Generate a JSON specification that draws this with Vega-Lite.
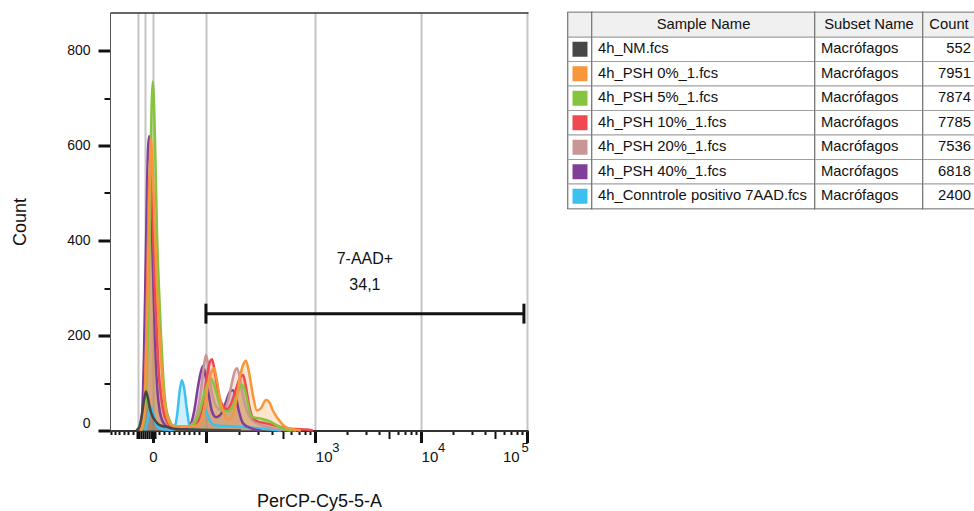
{
  "$schema": "https://vega.github.io/schema/vega-lite/v6.json",
  "padding": {"left": 11, "top": 10.5, "right": 0, "bottom": 0},
  "background": "white",
  "config": {"view": {"stroke": null}, "font": "Liberation Sans"},
  "datasets": {
    "hist": [
      {"sample": "4h_Conntrole positivo 7AAD.fcs", "channel": 86, "count": 0},
      {"sample": "4h_Conntrole positivo 7AAD.fcs", "channel": 93, "count": 25},
      {"sample": "4h_Conntrole positivo 7AAD.fcs", "channel": 100, "count": 50},
      {"sample": "4h_Conntrole positivo 7AAD.fcs", "channel": 106, "count": 35},
      {"sample": "4h_Conntrole positivo 7AAD.fcs", "channel": 113, "count": 12},
      {"sample": "4h_Conntrole positivo 7AAD.fcs", "channel": 122, "count": 4},
      {"sample": "4h_Conntrole positivo 7AAD.fcs", "channel": 135, "count": 2},
      {"sample": "4h_Conntrole positivo 7AAD.fcs", "channel": 149, "count": 1},
      {"sample": "4h_Conntrole positivo 7AAD.fcs", "channel": 157, "count": 3},
      {"sample": "4h_Conntrole positivo 7AAD.fcs", "channel": 164, "count": 30},
      {"sample": "4h_Conntrole positivo 7AAD.fcs", "channel": 171, "count": 85},
      {"sample": "4h_Conntrole positivo 7AAD.fcs", "channel": 176, "count": 106},
      {"sample": "4h_Conntrole positivo 7AAD.fcs", "channel": 181, "count": 92},
      {"sample": "4h_Conntrole positivo 7AAD.fcs", "channel": 189, "count": 40},
      {"sample": "4h_Conntrole positivo 7AAD.fcs", "channel": 196, "count": 8},
      {"sample": "4h_Conntrole positivo 7AAD.fcs", "channel": 206, "count": 6},
      {"sample": "4h_Conntrole positivo 7AAD.fcs", "channel": 216, "count": 15},
      {"sample": "4h_Conntrole positivo 7AAD.fcs", "channel": 225, "count": 35},
      {"sample": "4h_Conntrole positivo 7AAD.fcs", "channel": 233, "count": 43},
      {"sample": "4h_Conntrole positivo 7AAD.fcs", "channel": 240, "count": 30},
      {"sample": "4h_Conntrole positivo 7AAD.fcs", "channel": 250, "count": 14},
      {"sample": "4h_Conntrole positivo 7AAD.fcs", "channel": 267, "count": 10},
      {"sample": "4h_Conntrole positivo 7AAD.fcs", "channel": 296, "count": 9},
      {"sample": "4h_Conntrole positivo 7AAD.fcs", "channel": 333, "count": 7},
      {"sample": "4h_Conntrole positivo 7AAD.fcs", "channel": 370, "count": 4},
      {"sample": "4h_Conntrole positivo 7AAD.fcs", "channel": 419, "count": 0},

      {"sample": "4h_PSH 40%_1.fcs", "channel": 71, "count": 0},
      {"sample": "4h_PSH 40%_1.fcs", "channel": 78, "count": 30},
      {"sample": "4h_PSH 40%_1.fcs", "channel": 83, "count": 150},
      {"sample": "4h_PSH 40%_1.fcs", "channel": 88, "count": 380},
      {"sample": "4h_PSH 40%_1.fcs", "channel": 93, "count": 590},
      {"sample": "4h_PSH 40%_1.fcs", "channel": 96, "count": 620},
      {"sample": "4h_PSH 40%_1.fcs", "channel": 100, "count": 500},
      {"sample": "4h_PSH 40%_1.fcs", "channel": 105, "count": 350},
      {"sample": "4h_PSH 40%_1.fcs", "channel": 110, "count": 200},
      {"sample": "4h_PSH 40%_1.fcs", "channel": 115, "count": 100},
      {"sample": "4h_PSH 40%_1.fcs", "channel": 122, "count": 40},
      {"sample": "4h_PSH 40%_1.fcs", "channel": 132, "count": 15},
      {"sample": "4h_PSH 40%_1.fcs", "channel": 149, "count": 5},
      {"sample": "4h_PSH 40%_1.fcs", "channel": 186, "count": 5},
      {"sample": "4h_PSH 40%_1.fcs", "channel": 196, "count": 10},
      {"sample": "4h_PSH 40%_1.fcs", "channel": 206, "count": 40},
      {"sample": "4h_PSH 40%_1.fcs", "channel": 216, "count": 95},
      {"sample": "4h_PSH 40%_1.fcs", "channel": 223, "count": 125},
      {"sample": "4h_PSH 40%_1.fcs", "channel": 228, "count": 136},
      {"sample": "4h_PSH 40%_1.fcs", "channel": 235, "count": 110},
      {"sample": "4h_PSH 40%_1.fcs", "channel": 243, "count": 70},
      {"sample": "4h_PSH 40%_1.fcs", "channel": 250, "count": 40},
      {"sample": "4h_PSH 40%_1.fcs", "channel": 260, "count": 28},
      {"sample": "4h_PSH 40%_1.fcs", "channel": 272, "count": 35},
      {"sample": "4h_PSH 40%_1.fcs", "channel": 284, "count": 60},
      {"sample": "4h_PSH 40%_1.fcs", "channel": 294, "count": 82},
      {"sample": "4h_PSH 40%_1.fcs", "channel": 301, "count": 85},
      {"sample": "4h_PSH 40%_1.fcs", "channel": 309, "count": 68},
      {"sample": "4h_PSH 40%_1.fcs", "channel": 316, "count": 40},
      {"sample": "4h_PSH 40%_1.fcs", "channel": 326, "count": 15},
      {"sample": "4h_PSH 40%_1.fcs", "channel": 345, "count": 5},
      {"sample": "4h_PSH 40%_1.fcs", "channel": 370, "count": 0},

      {"sample": "4h_PSH 20%_1.fcs", "channel": 76, "count": 0},
      {"sample": "4h_PSH 20%_1.fcs", "channel": 83, "count": 40},
      {"sample": "4h_PSH 20%_1.fcs", "channel": 88, "count": 160},
      {"sample": "4h_PSH 20%_1.fcs", "channel": 93, "count": 400},
      {"sample": "4h_PSH 20%_1.fcs", "channel": 98, "count": 570},
      {"sample": "4h_PSH 20%_1.fcs", "channel": 103, "count": 510},
      {"sample": "4h_PSH 20%_1.fcs", "channel": 108, "count": 380},
      {"sample": "4h_PSH 20%_1.fcs", "channel": 113, "count": 240},
      {"sample": "4h_PSH 20%_1.fcs", "channel": 118, "count": 140},
      {"sample": "4h_PSH 20%_1.fcs", "channel": 125, "count": 70},
      {"sample": "4h_PSH 20%_1.fcs", "channel": 135, "count": 25},
      {"sample": "4h_PSH 20%_1.fcs", "channel": 149, "count": 8},
      {"sample": "4h_PSH 20%_1.fcs", "channel": 186, "count": 8},
      {"sample": "4h_PSH 20%_1.fcs", "channel": 203, "count": 15},
      {"sample": "4h_PSH 20%_1.fcs", "channel": 213, "count": 35},
      {"sample": "4h_PSH 20%_1.fcs", "channel": 223, "count": 85},
      {"sample": "4h_PSH 20%_1.fcs", "channel": 230, "count": 135},
      {"sample": "4h_PSH 20%_1.fcs", "channel": 235, "count": 159},
      {"sample": "4h_PSH 20%_1.fcs", "channel": 240, "count": 142},
      {"sample": "4h_PSH 20%_1.fcs", "channel": 247, "count": 92},
      {"sample": "4h_PSH 20%_1.fcs", "channel": 255, "count": 62},
      {"sample": "4h_PSH 20%_1.fcs", "channel": 265, "count": 46},
      {"sample": "4h_PSH 20%_1.fcs", "channel": 277, "count": 42},
      {"sample": "4h_PSH 20%_1.fcs", "channel": 289, "count": 62},
      {"sample": "4h_PSH 20%_1.fcs", "channel": 299, "count": 102},
      {"sample": "4h_PSH 20%_1.fcs", "channel": 306, "count": 126},
      {"sample": "4h_PSH 20%_1.fcs", "channel": 311, "count": 131},
      {"sample": "4h_PSH 20%_1.fcs", "channel": 318, "count": 112},
      {"sample": "4h_PSH 20%_1.fcs", "channel": 326, "count": 72},
      {"sample": "4h_PSH 20%_1.fcs", "channel": 336, "count": 40},
      {"sample": "4h_PSH 20%_1.fcs", "channel": 345, "count": 25},
      {"sample": "4h_PSH 20%_1.fcs", "channel": 370, "count": 12},
      {"sample": "4h_PSH 20%_1.fcs", "channel": 394, "count": 6},
      {"sample": "4h_PSH 20%_1.fcs", "channel": 419, "count": 2},
      {"sample": "4h_PSH 20%_1.fcs", "channel": 443, "count": 0},

      {"sample": "4h_PSH 10%_1.fcs", "channel": 76, "count": 0},
      {"sample": "4h_PSH 10%_1.fcs", "channel": 83, "count": 40},
      {"sample": "4h_PSH 10%_1.fcs", "channel": 88, "count": 150},
      {"sample": "4h_PSH 10%_1.fcs", "channel": 93, "count": 380},
      {"sample": "4h_PSH 10%_1.fcs", "channel": 98, "count": 540},
      {"sample": "4h_PSH 10%_1.fcs", "channel": 103, "count": 480},
      {"sample": "4h_PSH 10%_1.fcs", "channel": 108, "count": 360},
      {"sample": "4h_PSH 10%_1.fcs", "channel": 113, "count": 240},
      {"sample": "4h_PSH 10%_1.fcs", "channel": 118, "count": 140},
      {"sample": "4h_PSH 10%_1.fcs", "channel": 125, "count": 75},
      {"sample": "4h_PSH 10%_1.fcs", "channel": 135, "count": 28},
      {"sample": "4h_PSH 10%_1.fcs", "channel": 149, "count": 10},
      {"sample": "4h_PSH 10%_1.fcs", "channel": 174, "count": 8},
      {"sample": "4h_PSH 10%_1.fcs", "channel": 198, "count": 8},
      {"sample": "4h_PSH 10%_1.fcs", "channel": 216, "count": 20},
      {"sample": "4h_PSH 10%_1.fcs", "channel": 228, "count": 60},
      {"sample": "4h_PSH 10%_1.fcs", "channel": 238, "count": 118},
      {"sample": "4h_PSH 10%_1.fcs", "channel": 245, "count": 145},
      {"sample": "4h_PSH 10%_1.fcs", "channel": 250, "count": 150},
      {"sample": "4h_PSH 10%_1.fcs", "channel": 257, "count": 122},
      {"sample": "4h_PSH 10%_1.fcs", "channel": 267, "count": 72},
      {"sample": "4h_PSH 10%_1.fcs", "channel": 277, "count": 52},
      {"sample": "4h_PSH 10%_1.fcs", "channel": 287, "count": 45},
      {"sample": "4h_PSH 10%_1.fcs", "channel": 296, "count": 55},
      {"sample": "4h_PSH 10%_1.fcs", "channel": 309, "count": 88},
      {"sample": "4h_PSH 10%_1.fcs", "channel": 318, "count": 110},
      {"sample": "4h_PSH 10%_1.fcs", "channel": 326, "count": 117},
      {"sample": "4h_PSH 10%_1.fcs", "channel": 333, "count": 92},
      {"sample": "4h_PSH 10%_1.fcs", "channel": 341, "count": 52},
      {"sample": "4h_PSH 10%_1.fcs", "channel": 348, "count": 30},
      {"sample": "4h_PSH 10%_1.fcs", "channel": 360, "count": 20},
      {"sample": "4h_PSH 10%_1.fcs", "channel": 382, "count": 15},
      {"sample": "4h_PSH 10%_1.fcs", "channel": 407, "count": 10},
      {"sample": "4h_PSH 10%_1.fcs", "channel": 431, "count": 5},
      {"sample": "4h_PSH 10%_1.fcs", "channel": 456, "count": 3},
      {"sample": "4h_PSH 10%_1.fcs", "channel": 480, "count": 2},
      {"sample": "4h_PSH 10%_1.fcs", "channel": 497, "count": 0},

      {"sample": "4h_PSH 5%_1.fcs", "channel": 76, "count": 0},
      {"sample": "4h_PSH 5%_1.fcs", "channel": 83, "count": 20},
      {"sample": "4h_PSH 5%_1.fcs", "channel": 91, "count": 150},
      {"sample": "4h_PSH 5%_1.fcs", "channel": 96, "count": 350},
      {"sample": "4h_PSH 5%_1.fcs", "channel": 100, "count": 600},
      {"sample": "4h_PSH 5%_1.fcs", "channel": 105, "count": 735},
      {"sample": "4h_PSH 5%_1.fcs", "channel": 110, "count": 620},
      {"sample": "4h_PSH 5%_1.fcs", "channel": 115, "count": 420},
      {"sample": "4h_PSH 5%_1.fcs", "channel": 120, "count": 300},
      {"sample": "4h_PSH 5%_1.fcs", "channel": 125, "count": 200},
      {"sample": "4h_PSH 5%_1.fcs", "channel": 130, "count": 120},
      {"sample": "4h_PSH 5%_1.fcs", "channel": 137, "count": 50},
      {"sample": "4h_PSH 5%_1.fcs", "channel": 145, "count": 24},
      {"sample": "4h_PSH 5%_1.fcs", "channel": 152, "count": 12},
      {"sample": "4h_PSH 5%_1.fcs", "channel": 164, "count": 9},
      {"sample": "4h_PSH 5%_1.fcs", "channel": 189, "count": 9},
      {"sample": "4h_PSH 5%_1.fcs", "channel": 203, "count": 12},
      {"sample": "4h_PSH 5%_1.fcs", "channel": 213, "count": 25},
      {"sample": "4h_PSH 5%_1.fcs", "channel": 223, "count": 50},
      {"sample": "4h_PSH 5%_1.fcs", "channel": 230, "count": 75},
      {"sample": "4h_PSH 5%_1.fcs", "channel": 240, "count": 100},
      {"sample": "4h_PSH 5%_1.fcs", "channel": 247, "count": 110},
      {"sample": "4h_PSH 5%_1.fcs", "channel": 255, "count": 96},
      {"sample": "4h_PSH 5%_1.fcs", "channel": 265, "count": 65},
      {"sample": "4h_PSH 5%_1.fcs", "channel": 274, "count": 43},
      {"sample": "4h_PSH 5%_1.fcs", "channel": 289, "count": 40},
      {"sample": "4h_PSH 5%_1.fcs", "channel": 301, "count": 52},
      {"sample": "4h_PSH 5%_1.fcs", "channel": 314, "count": 82},
      {"sample": "4h_PSH 5%_1.fcs", "channel": 323, "count": 96},
      {"sample": "4h_PSH 5%_1.fcs", "channel": 331, "count": 84},
      {"sample": "4h_PSH 5%_1.fcs", "channel": 338, "count": 55},
      {"sample": "4h_PSH 5%_1.fcs", "channel": 345, "count": 32},
      {"sample": "4h_PSH 5%_1.fcs", "channel": 355, "count": 27},
      {"sample": "4h_PSH 5%_1.fcs", "channel": 365, "count": 26},
      {"sample": "4h_PSH 5%_1.fcs", "channel": 382, "count": 22},
      {"sample": "4h_PSH 5%_1.fcs", "channel": 394, "count": 18},
      {"sample": "4h_PSH 5%_1.fcs", "channel": 414, "count": 8},
      {"sample": "4h_PSH 5%_1.fcs", "channel": 431, "count": 2},
      {"sample": "4h_PSH 5%_1.fcs", "channel": 456, "count": 0},

      {"sample": "4h_PSH 0%_1.fcs", "channel": 73, "count": 0},
      {"sample": "4h_PSH 0%_1.fcs", "channel": 81, "count": 15},
      {"sample": "4h_PSH 0%_1.fcs", "channel": 86, "count": 80},
      {"sample": "4h_PSH 0%_1.fcs", "channel": 91, "count": 250},
      {"sample": "4h_PSH 0%_1.fcs", "channel": 96, "count": 480},
      {"sample": "4h_PSH 0%_1.fcs", "channel": 100, "count": 616},
      {"sample": "4h_PSH 0%_1.fcs", "channel": 105, "count": 540},
      {"sample": "4h_PSH 0%_1.fcs", "channel": 110, "count": 420},
      {"sample": "4h_PSH 0%_1.fcs", "channel": 115, "count": 300},
      {"sample": "4h_PSH 0%_1.fcs", "channel": 120, "count": 220},
      {"sample": "4h_PSH 0%_1.fcs", "channel": 125, "count": 150},
      {"sample": "4h_PSH 0%_1.fcs", "channel": 132, "count": 70},
      {"sample": "4h_PSH 0%_1.fcs", "channel": 140, "count": 30},
      {"sample": "4h_PSH 0%_1.fcs", "channel": 149, "count": 12},
      {"sample": "4h_PSH 0%_1.fcs", "channel": 164, "count": 8},
      {"sample": "4h_PSH 0%_1.fcs", "channel": 189, "count": 8},
      {"sample": "4h_PSH 0%_1.fcs", "channel": 211, "count": 10},
      {"sample": "4h_PSH 0%_1.fcs", "channel": 223, "count": 20},
      {"sample": "4h_PSH 0%_1.fcs", "channel": 233, "count": 55},
      {"sample": "4h_PSH 0%_1.fcs", "channel": 240, "count": 95},
      {"sample": "4h_PSH 0%_1.fcs", "channel": 247, "count": 120},
      {"sample": "4h_PSH 0%_1.fcs", "channel": 255, "count": 131},
      {"sample": "4h_PSH 0%_1.fcs", "channel": 262, "count": 105},
      {"sample": "4h_PSH 0%_1.fcs", "channel": 272, "count": 55},
      {"sample": "4h_PSH 0%_1.fcs", "channel": 282, "count": 30},
      {"sample": "4h_PSH 0%_1.fcs", "channel": 289, "count": 22},
      {"sample": "4h_PSH 0%_1.fcs", "channel": 299, "count": 30},
      {"sample": "4h_PSH 0%_1.fcs", "channel": 309, "count": 62},
      {"sample": "4h_PSH 0%_1.fcs", "channel": 318, "count": 112},
      {"sample": "4h_PSH 0%_1.fcs", "channel": 326, "count": 138},
      {"sample": "4h_PSH 0%_1.fcs", "channel": 333, "count": 147},
      {"sample": "4h_PSH 0%_1.fcs", "channel": 341, "count": 120},
      {"sample": "4h_PSH 0%_1.fcs", "channel": 350, "count": 75},
      {"sample": "4h_PSH 0%_1.fcs", "channel": 360, "count": 42},
      {"sample": "4h_PSH 0%_1.fcs", "channel": 370, "count": 47},
      {"sample": "4h_PSH 0%_1.fcs", "channel": 382, "count": 64},
      {"sample": "4h_PSH 0%_1.fcs", "channel": 390, "count": 60},
      {"sample": "4h_PSH 0%_1.fcs", "channel": 399, "count": 42},
      {"sample": "4h_PSH 0%_1.fcs", "channel": 412, "count": 24},
      {"sample": "4h_PSH 0%_1.fcs", "channel": 426, "count": 10},
      {"sample": "4h_PSH 0%_1.fcs", "channel": 443, "count": 3},
      {"sample": "4h_PSH 0%_1.fcs", "channel": 468, "count": 0},

      {"sample": "4h_NM.fcs", "channel": 64, "count": 0},
      {"sample": "4h_NM.fcs", "channel": 71, "count": 6},
      {"sample": "4h_NM.fcs", "channel": 78, "count": 32},
      {"sample": "4h_NM.fcs", "channel": 83, "count": 62},
      {"sample": "4h_NM.fcs", "channel": 88, "count": 82},
      {"sample": "4h_NM.fcs", "channel": 93, "count": 68},
      {"sample": "4h_NM.fcs", "channel": 98, "count": 46},
      {"sample": "4h_NM.fcs", "channel": 103, "count": 32},
      {"sample": "4h_NM.fcs", "channel": 108, "count": 24},
      {"sample": "4h_NM.fcs", "channel": 113, "count": 18},
      {"sample": "4h_NM.fcs", "channel": 120, "count": 12},
      {"sample": "4h_NM.fcs", "channel": 130, "count": 9},
      {"sample": "4h_NM.fcs", "channel": 140, "count": 8},
      {"sample": "4h_NM.fcs", "channel": 149, "count": 5},
      {"sample": "4h_NM.fcs", "channel": 164, "count": 3},
      {"sample": "4h_NM.fcs", "channel": 198, "count": 2},
      {"sample": "4h_NM.fcs", "channel": 247, "count": 1},
      {"sample": "4h_NM.fcs", "channel": 321, "count": 0}
    ],
    "samples": [
      {"sample": "4h_NM.fcs", "subset": "Macrófagos", "count": 552},
      {"sample": "4h_PSH 0%_1.fcs", "subset": "Macrófagos", "count": 7951},
      {"sample": "4h_PSH 5%_1.fcs", "subset": "Macrófagos", "count": 7874},
      {"sample": "4h_PSH 10%_1.fcs", "subset": "Macrófagos", "count": 7785},
      {"sample": "4h_PSH 20%_1.fcs", "subset": "Macrófagos", "count": 7536},
      {"sample": "4h_PSH 40%_1.fcs", "subset": "Macrófagos", "count": 6818},
      {"sample": "4h_Conntrole positivo 7AAD.fcs", "subset": "Macrófagos", "count": 2400}
    ],
    "gates": [
      {"gate": "7-AAD+", "freq": "34,1", "x1": 235, "x2": 1014}
    ]
  },
  "spacing": 40,
  "bounds": "flush",
  "resolve": {"scale": {"x": "independent", "y": "independent"}},
  "hconcat": [
    {
      "width": 418,
      "height": 418,
      "resolve": {"axis": {"x": "independent"}},
      "layer": [
        {
          "data": {"name": "hist"},
          "mark": {"type": "area", "interpolate": "monotone", "fillOpacity": 0.25},
          "encoding": {
            "x": {
              "field": "channel", "type": "quantitative",
              "scale": {"domain": [0, 1024], "nice": false, "zero": false},
              "axis": {
                "orient": "bottom",
                "values": [2, 12, 22, 34, 44, 56, 66, 69, 71, 76, 81, 86, 91, 96, 100, 105, 110, 120, 132, 145, 157, 169, 181, 194, 206, 218, 235, 316, 363, 397, 423, 444, 462, 477, 491, 503, 581, 627, 659, 684, 705, 722, 737, 750, 762, 840, 886, 919, 944, 964, 982, 997, 1010, 1022],
                "labelExpr": "datum.value == 105 ? '0' : (datum.value == 503 || datum.value == 762 || datum.value == 1022) ? '10' : ''",
                "labelAlign": {"condition": [{"test": "datum.value > 1000", "value": "right"}, {"test": "datum.value > 400", "value": "left"}], "value": "center"},
                "labelOffset": {"condition": {"test": "datum.value > 1000", "value": -8}, "value": 0},
                "labelFlush": false,
                "labelOverlap": false,
                "labelBound": false,
                "labelFontSize": 15,
                "labelColor": "#111",
                "labelPadding": 7,
                "tickSize": {"condition": [{"test": "indexof([105, 235, 503, 762, 1022], datum.value) >= 0", "value": 12}, {"test": "indexof([423, 684, 944, 66, 69, 71, 76, 81, 86, 91, 96, 100, 110], datum.value) >= 0", "value": 8}], "value": 4},
                "tickWidth": {"condition": {"test": "indexof([105, 235, 503, 762, 1022], datum.value) >= 0", "value": 3}, "value": 2},
                "tickColor": "#111",
                "grid": true,
                "gridColor": "#c6c6c6",
                "gridWidth": 2,
                "gridOpacity": {"condition": {"test": "indexof([69, 86, 105, 235, 503, 762, 1022], datum.value) >= 0", "value": 1}, "value": 0},
                "domainColor": "#333",
                "domainWidth": 2,
                "title": "PerCP-Cy5-5-A",
                "titleFontSize": 18,
                "titleFontWeight": "normal",
                "titleColor": "#111",
                "titlePadding": 28
              }
            },
            "y": {
              "field": "count", "type": "quantitative", "stack": null,
              "scale": {"domain": [0, 880], "nice": false},
              "axis": {
                "values": [0, 50, 100, 150, 200, 250, 300, 350, 400, 450, 500, 550, 600, 650, 700, 750, 800, 850],
                "labelExpr": "datum.value % 200 == 0 ? datum.label : ''",
                "labelFlush": true,
                "labelFontSize": 14,
                "labelColor": "#111",
                "labelPadding": 8,
                "tickSize": {"condition": {"test": "datum.value % 200 == 0", "value": 12}, "value": 6},
                "tickWidth": {"condition": {"test": "datum.value % 200 == 0", "value": 3}, "value": 2},
                "tickColor": "#111",
                "grid": false,
                "domainColor": "#555",
                "domainWidth": 1,
                "title": "Count",
                "titleFontSize": 18,
                "titleFontWeight": "normal",
                "titleColor": "#111",
                "titlePadding": 37
              }
            },
            "color": {
              "field": "sample", "type": "nominal",
              "scale": {
                "domain": ["4h_NM.fcs", "4h_PSH 0%_1.fcs", "4h_PSH 5%_1.fcs", "4h_PSH 10%_1.fcs", "4h_PSH 20%_1.fcs", "4h_PSH 40%_1.fcs", "4h_Conntrole positivo 7AAD.fcs"],
                "range": ["#474747", "#f7963b", "#86c440", "#ef4850", "#c99595", "#7f3f98", "#3bc0ef"]
              },
              "legend": null
            }
          }
        },
        {
          "data": {"name": "hist"},
          "mark": {"type": "line", "interpolate": "monotone", "strokeWidth": 2.5},
          "encoding": {
            "x": {
              "field": "channel", "type": "quantitative",
              "axis": {
                "orient": "bottom",
                "values": [503, 762, 1022],
                "labelExpr": "datum.value == 503 ? '3' : datum.value == 762 ? '4' : '5'",
                "labelAlign": {"condition": {"test": "datum.value > 1000", "value": "right"}, "value": "left"},
                "labelOffset": {"condition": {"test": "datum.value > 1000", "value": 1}, "value": 16.5},
                "labelFlush": false,
                "labelOverlap": false,
                "labelBound": false,
                "labelFontSize": 13,
                "labelColor": "#111",
                "labelPadding": -1,
                "ticks": true,
                "tickSize": 12,
                "tickOpacity": 0,
                "domain": false,
                "grid": false,
                "title": null
              }
            },
            "y": {"field": "count", "type": "quantitative"},
            "color": {"field": "sample", "type": "nominal", "legend": null}
          }
        },
        {
          "data": {"name": "gates"},
          "mark": {"type": "rule", "strokeWidth": 3, "color": "#111"},
          "encoding": {
            "x": {"field": "x1", "type": "quantitative", "axis": {"orient": "top", "labels": false, "ticks": false, "grid": false, "title": null, "domainColor": "#333", "domainWidth": 1.5}},
            "x2": {"field": "x2"},
            "y": {"datum": 246, "type": "quantitative"}
          }
        },
        {
          "data": {"name": "gates"},
          "transform": [{"fold": ["x1", "x2"], "as": ["edge", "pos"]}],
          "mark": {"type": "rule", "strokeWidth": 3, "color": "#111"},
          "encoding": {
            "x": {"field": "pos", "type": "quantitative", "axis": null},
            "y": {"datum": 225, "type": "quantitative"},
            "y2": {"datum": 267}
          }
        },
        {
          "data": {"name": "gates"},
          "transform": [{"calculate": "(datum.x1 + datum.x2) / 2", "as": "mid"}],
          "mark": {"type": "text", "fontSize": 16, "color": "#111", "align": "center", "baseline": "middle"},
          "encoding": {
            "x": {"field": "mid", "type": "quantitative", "axis": null},
            "y": {"datum": 362, "type": "quantitative"},
            "text": {"field": "gate"}
          }
        },
        {
          "data": {"name": "gates"},
          "transform": [{"calculate": "(datum.x1 + datum.x2) / 2", "as": "mid"}],
          "mark": {"type": "text", "fontSize": 16, "color": "#111", "align": "center", "baseline": "middle"},
          "encoding": {
            "x": {"field": "mid", "type": "quantitative", "axis": null},
            "y": {"datum": 307, "type": "quantitative"},
            "text": {"field": "freq"}
          }
        }
      ]
    },
    {
      "spacing": 0,
      "bounds": "flush",
      "hconcat": [
        {
          "width": 24,
          "height": 196,
          "view": {"stroke": "#333", "strokeWidth": 1.5},
          "data": {"name": "samples"},
          "layer": [
            {
              "mark": {"type": "rect", "fill": "white", "stroke": "#a0a0a0", "strokeWidth": 1},
              "encoding": {
                "x": {"value": 0}, "x2": {"value": "width"},
                "y": {"field": "sample", "type": "nominal", "axis": null,
                  "scale": {"domain": ["header", "4h_NM.fcs", "4h_PSH 0%_1.fcs", "4h_PSH 5%_1.fcs", "4h_PSH 10%_1.fcs", "4h_PSH 20%_1.fcs", "4h_PSH 40%_1.fcs", "4h_Conntrole positivo 7AAD.fcs"], "paddingInner": 0, "paddingOuter": 0}}
              }
            },
            {
              "data": {"values": [{}]},
              "mark": {"type": "rect", "fill": "#f0f0f0", "stroke": "#a0a0a0", "strokeWidth": 1},
              "encoding": {"x": {"value": 0}, "x2": {"value": "width"}, "y": {"datum": "header", "type": "nominal", "axis": null}}
            },
            {
              "mark": {"type": "point", "shape": "square", "filled": true, "size": 225, "opacity": 1},
              "encoding": {
                "y": {"field": "sample", "type": "nominal", "axis": null},
                "color": {"field": "sample", "type": "nominal", "legend": null,
                  "scale": {
                    "domain": ["4h_NM.fcs", "4h_PSH 0%_1.fcs", "4h_PSH 5%_1.fcs", "4h_PSH 10%_1.fcs", "4h_PSH 20%_1.fcs", "4h_PSH 40%_1.fcs", "4h_Conntrole positivo 7AAD.fcs"],
                    "range": ["#474747", "#f7963b", "#86c440", "#ef4850", "#c99595", "#7f3f98", "#3bc0ef"]
                  }}
              }
            }
          ]
        },
        {
          "width": 223,
          "height": 196,
          "view": {"stroke": "#333", "strokeWidth": 1.5},
          "data": {"name": "samples"},
          "layer": [
            {
              "mark": {"type": "rect", "fill": "white", "stroke": "#a0a0a0", "strokeWidth": 1},
              "encoding": {
                "x": {"value": 0}, "x2": {"value": "width"},
                "y": {"field": "sample", "type": "nominal", "axis": null,
                  "scale": {"domain": ["header", "4h_NM.fcs", "4h_PSH 0%_1.fcs", "4h_PSH 5%_1.fcs", "4h_PSH 10%_1.fcs", "4h_PSH 20%_1.fcs", "4h_PSH 40%_1.fcs", "4h_Conntrole positivo 7AAD.fcs"], "paddingInner": 0, "paddingOuter": 0}}
              }
            },
            {
              "data": {"values": [{}]},
              "mark": {"type": "rect", "fill": "#f0f0f0", "stroke": "#a0a0a0", "strokeWidth": 1},
              "encoding": {"x": {"value": 0}, "x2": {"value": "width"}, "y": {"datum": "header", "type": "nominal", "axis": null}}
            },
            {
              "mark": {"type": "text", "align": "left", "baseline": "middle", "fontSize": 14.8, "color": "#111"},
              "encoding": {"x": {"value": 6}, "y": {"field": "sample", "type": "nominal", "axis": null}, "text": {"field": "sample"}}
            },
            {
              "data": {"values": [{}]},
              "mark": {"type": "text", "align": "center", "baseline": "middle", "fontSize": 14.8, "color": "#111"},
              "encoding": {"y": {"datum": "header", "type": "nominal", "axis": null}, "text": {"value": "Sample Name"}}
            }
          ]
        },
        {
          "width": 108,
          "height": 196,
          "view": {"stroke": "#333", "strokeWidth": 1.5},
          "data": {"name": "samples"},
          "layer": [
            {
              "mark": {"type": "rect", "fill": "white", "stroke": "#a0a0a0", "strokeWidth": 1},
              "encoding": {
                "x": {"value": 0}, "x2": {"value": "width"},
                "y": {"field": "sample", "type": "nominal", "axis": null,
                  "scale": {"domain": ["header", "4h_NM.fcs", "4h_PSH 0%_1.fcs", "4h_PSH 5%_1.fcs", "4h_PSH 10%_1.fcs", "4h_PSH 20%_1.fcs", "4h_PSH 40%_1.fcs", "4h_Conntrole positivo 7AAD.fcs"], "paddingInner": 0, "paddingOuter": 0}}
              }
            },
            {
              "data": {"values": [{}]},
              "mark": {"type": "rect", "fill": "#f0f0f0", "stroke": "#a0a0a0", "strokeWidth": 1},
              "encoding": {"x": {"value": 0}, "x2": {"value": "width"}, "y": {"datum": "header", "type": "nominal", "axis": null}}
            },
            {
              "mark": {"type": "text", "align": "left", "baseline": "middle", "fontSize": 14.8, "color": "#111"},
              "encoding": {"x": {"value": 6}, "y": {"field": "sample", "type": "nominal", "axis": null}, "text": {"field": "subset"}}
            },
            {
              "data": {"values": [{}]},
              "mark": {"type": "text", "align": "center", "baseline": "middle", "fontSize": 14.8, "color": "#111"},
              "encoding": {"y": {"datum": "header", "type": "nominal", "axis": null}, "text": {"value": "Subset Name"}}
            }
          ]
        },
        {
          "width": 52,
          "height": 196,
          "view": {"stroke": "#333", "strokeWidth": 1.5},
          "data": {"name": "samples"},
          "layer": [
            {
              "mark": {"type": "rect", "fill": "white", "stroke": "#a0a0a0", "strokeWidth": 1},
              "encoding": {
                "x": {"value": 0}, "x2": {"value": "width"},
                "y": {"field": "sample", "type": "nominal", "axis": null,
                  "scale": {"domain": ["header", "4h_NM.fcs", "4h_PSH 0%_1.fcs", "4h_PSH 5%_1.fcs", "4h_PSH 10%_1.fcs", "4h_PSH 20%_1.fcs", "4h_PSH 40%_1.fcs", "4h_Conntrole positivo 7AAD.fcs"], "paddingInner": 0, "paddingOuter": 0}}
              }
            },
            {
              "data": {"values": [{}]},
              "mark": {"type": "rect", "fill": "#f0f0f0", "stroke": "#a0a0a0", "strokeWidth": 1},
              "encoding": {"x": {"value": 0}, "x2": {"value": "width"}, "y": {"datum": "header", "type": "nominal", "axis": null}}
            },
            {
              "mark": {"type": "text", "align": "right", "baseline": "middle", "fontSize": 14.8, "color": "#111", "dx": -4},
              "encoding": {"x": {"value": "width"}, "y": {"field": "sample", "type": "nominal", "axis": null}, "text": {"field": "count"}}
            },
            {
              "data": {"values": [{}]},
              "mark": {"type": "text", "align": "center", "baseline": "middle", "fontSize": 14.8, "color": "#111"},
              "encoding": {"y": {"datum": "header", "type": "nominal", "axis": null}, "text": {"value": "Count"}}
            }
          ]
        }
      ]
    }
  ]
}
